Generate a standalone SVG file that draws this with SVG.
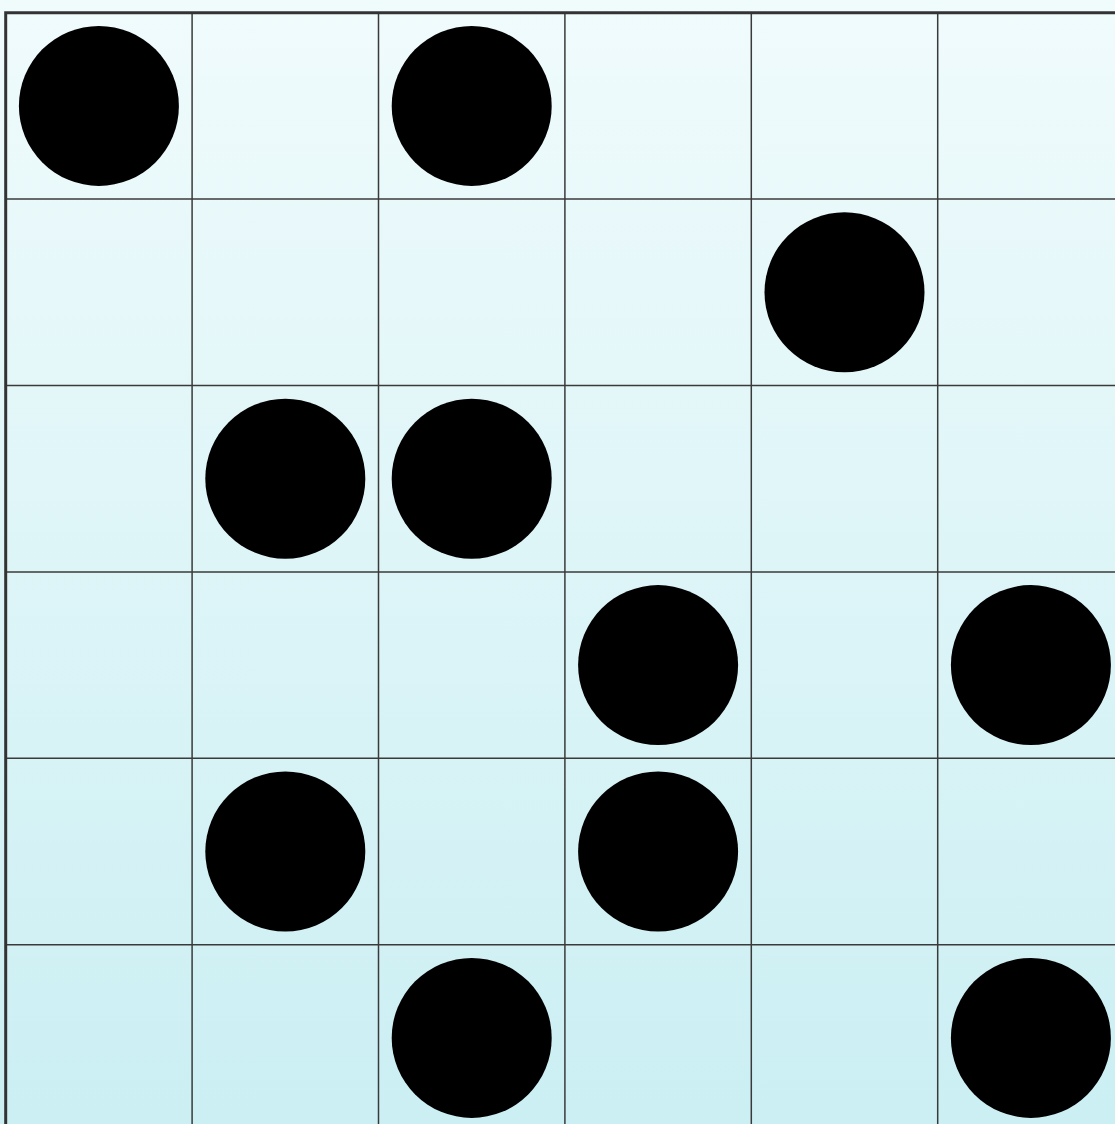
<svg xmlns="http://www.w3.org/2000/svg" width="1115" height="1124" viewBox="0 0 1115 1124">
<defs>
<linearGradient id="bg" x1="0" y1="0" x2="0" y2="1">
<stop offset="0" stop-color="#f0fbfc"/>
<stop offset="1" stop-color="#cbeff3"/>
</linearGradient>
<style>
.g{stroke:#3a3a3a;stroke-width:1.5;fill:none}
.b{stroke:#333;stroke-width:3;fill:none}
.s{fill:#000}
</style>
</defs>
<rect x="0" y="0" width="1115" height="1124" fill="url(#bg)"/>
<g id="grid">
<line class="g" x1="192.1" y1="12.7" x2="192.1" y2="1124"/>
<line class="g" x1="378.5" y1="12.7" x2="378.5" y2="1124"/>
<line class="g" x1="564.9" y1="12.7" x2="564.9" y2="1124"/>
<line class="g" x1="751.3" y1="12.7" x2="751.3" y2="1124"/>
<line class="g" x1="937.7" y1="12.7" x2="937.7" y2="1124"/>
<line class="g" x1="5.7" y1="199.1" x2="1115" y2="199.1"/>
<line class="g" x1="5.7" y1="385.5" x2="1115" y2="385.5"/>
<line class="g" x1="5.7" y1="571.9" x2="1115" y2="571.9"/>
<line class="g" x1="5.7" y1="758.3" x2="1115" y2="758.3"/>
<line class="g" x1="5.7" y1="944.7" x2="1115" y2="944.7"/>
<path class="b" d="M5.7 1124 V12.7 H1115"/>
</g>
<g id="stones">
<circle class="s" cx="98.9" cy="105.9" r="80"/>
<circle class="s" cx="471.7" cy="105.9" r="80"/>
<circle class="s" cx="844.5" cy="292.3" r="80"/>
<circle class="s" cx="285.3" cy="478.7" r="80"/>
<circle class="s" cx="471.7" cy="478.7" r="80"/>
<circle class="s" cx="658.1" cy="665.1" r="80"/>
<circle class="s" cx="1030.9" cy="665.1" r="80"/>
<circle class="s" cx="285.3" cy="851.5" r="80"/>
<circle class="s" cx="658.1" cy="851.5" r="80"/>
<circle class="s" cx="471.7" cy="1037.9" r="80"/>
<circle class="s" cx="1030.9" cy="1037.9" r="80"/>
</g>
</svg>
